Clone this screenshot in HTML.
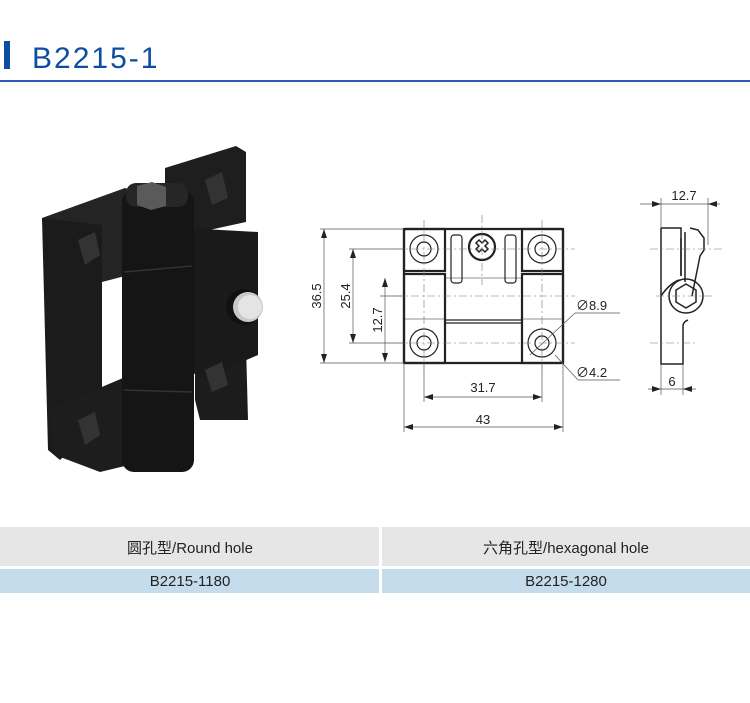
<!DOCTYPE html>
<html><head><meta charset="utf-8"><style>
body{margin:0;width:750px;height:698px;background:#fff;overflow:hidden;font-family:"Liberation Sans","Noto Sans CJK SC",sans-serif}
svg text{font-family:"Liberation Sans","Noto Sans CJK SC",sans-serif}
</style></head><body>
<svg width="750" height="698" viewBox="0 0 750 698" xmlns="http://www.w3.org/2000/svg">
<rect x="4" y="41" width="6" height="28" fill="#0d4ea0"/>
<text x="32" y="68" font-size="30" fill="#0d4ea0" letter-spacing="2">B2215-1</text>
<rect x="0" y="80" width="750" height="2" fill="#2a5fb0"/>

<!-- photo -->
<g>
<polygon points="165,168 236,146 246,152 246,222 200,232 165,232" fill="#1e1e1e"/>
<polygon points="195,350 246,345 248,420 200,420 195,400" fill="#1c1c1c"/>
<polygon points="42,218 125,188 160,200 160,268 100,285 48,290" fill="#242424"/>
<polygon points="42,218 102,225 102,420 60,460 48,450" fill="#1b1b1b"/>
<polygon points="102,282 125,276 125,398 102,404" fill="#fff"/>
<polygon points="48,410 130,375 170,380 170,455 100,472 55,455" fill="#1d1d1d"/>
<polygon points="185,228 258,232 258,355 205,378 185,370" fill="#1a1a1a"/>
<rect x="122" y="190" width="72" height="282" rx="12" fill="#151515"/>
<line x1="124" y1="272" x2="192" y2="266" stroke="#333" stroke-width="1.5"/>
<line x1="124" y1="390" x2="192" y2="392" stroke="#333" stroke-width="1.5"/>
<rect x="126" y="183" width="62" height="24" rx="10" fill="#262626"/>
<polygon points="137,186 152,182 166,187 166,206 151,210 137,205" fill="#5a5a5a"/>
<polygon points="78,240 95,232 100,255 85,265" fill="#333"/>
<polygon points="205,180 222,172 228,198 212,205" fill="#333"/>
<polygon points="78,420 95,412 100,435 85,445" fill="#333"/>
<polygon points="205,370 222,362 228,385 212,392" fill="#333"/>
<circle cx="244" cy="307" r="18" fill="#111"/>
<circle cx="248" cy="307" r="15" fill="#c8c8c8"/>
<circle cx="250" cy="307" r="12" fill="#e4e4e4"/>
</g>

<!-- front drawing -->
<g stroke="#222" fill="none">
<g stroke-width="2.2">
<rect x="404" y="229" width="159" height="134" rx="2"/>
<rect x="404" y="229" width="41" height="42"/>
<rect x="522" y="229" width="41" height="42"/>
<rect x="404" y="274" width="41" height="89"/>
<rect x="522" y="274" width="41" height="89"/>
<circle cx="482" cy="247" r="13"/>
</g>
<g stroke-width="1.2">
<line x1="445" y1="320" x2="522" y2="320"/><line x1="445" y1="323" x2="522" y2="323"/>
<rect x="451" y="235" width="11" height="48" rx="3"/>
<rect x="505" y="235" width="11" height="48" rx="3"/>
<line x1="445" y1="278" x2="522" y2="278" stroke-width="0.6"/>
<line x1="404" y1="319" x2="445" y2="319" stroke-width="0.6"/>
<line x1="522" y1="319" x2="563" y2="319" stroke-width="0.6"/>
<circle cx="424" cy="249" r="14"/><circle cx="424" cy="249" r="7"/>
<circle cx="542" cy="249" r="14"/><circle cx="542" cy="249" r="7"/>
<circle cx="424" cy="343" r="14"/><circle cx="424" cy="343" r="7"/>
<circle cx="542" cy="343" r="14"/><circle cx="542" cy="343" r="7"/>
<path d="M476,243 l3,-3 3,3 3,-3 3,3 -3,3 3,3 -3,3 -3,-3 -3,3 -3,-3 3,-3z" stroke-width="1.5"/>
</g>
<g stroke-width="0.7" stroke="#555">
<line x1="320" y1="229" x2="404" y2="229"/><line x1="320" y1="363" x2="404" y2="363"/>
<line x1="349" y1="249" x2="404" y2="249"/><line x1="349" y1="343" x2="404" y2="343"/>
<line x1="380" y1="296" x2="404" y2="296"/>
<line x1="404" y1="363" x2="404" y2="432"/><line x1="563" y1="363" x2="563" y2="432"/>
<line x1="424" y1="363" x2="424" y2="402"/><line x1="542" y1="363" x2="542" y2="402"/>
<line x1="324" y1="229" x2="324" y2="363"/>
<line x1="353" y1="249" x2="353" y2="343"/>
<line x1="385" y1="278" x2="385" y2="362"/>
<line x1="424" y1="397" x2="542" y2="397"/>
<line x1="404" y1="427" x2="563" y2="427"/>
<line x1="530" y1="355" x2="575" y2="313"/><line x1="575" y1="313" x2="620" y2="313"/>
<line x1="555" y1="355" x2="578" y2="380"/><line x1="578" y1="380" x2="620" y2="380"/>
</g>
<g stroke-width="0.6" stroke="#777" stroke-dasharray="8,3,2,3">
<line x1="395" y1="296" x2="575" y2="296"/>
<line x1="395" y1="249" x2="575" y2="249"/>
<line x1="395" y1="343" x2="575" y2="343"/>
<line x1="482" y1="215" x2="482" y2="285"/>
<line x1="424" y1="220" x2="424" y2="370"/>
<line x1="542" y1="220" x2="542" y2="370"/>
</g>
</g>
<g fill="#222">
<polygon points="324,229 321,238 327,238"/><polygon points="324,363 321,354 327,354"/>
<polygon points="353,249 350,258 356,258"/><polygon points="353,343 350,334 356,334"/>
<polygon points="385,278 382,287 388,287"/><polygon points="385,362 382,353 388,353"/>
<polygon points="424,397 433,394 433,400"/><polygon points="542,397 533,394 533,400"/>
<polygon points="404,427 413,424 413,430"/><polygon points="563,427 554,424 554,430"/>
</g>
<g font-size="13" fill="#222">
<text x="0" y="0" transform="translate(321,296) rotate(-90)" text-anchor="middle">36.5</text>
<text x="0" y="0" transform="translate(350,296) rotate(-90)" text-anchor="middle">25.4</text>
<text x="0" y="0" transform="translate(382,320) rotate(-90)" text-anchor="middle">12.7</text>
<text x="483" y="392" text-anchor="middle">31.7</text>
<text x="483" y="424" text-anchor="middle">43</text>
<text x="576" y="310">∅8.9</text>
<text x="576" y="377">∅4.2</text>
<text x="684" y="200" text-anchor="middle">12.7</text>
<text x="672" y="386" text-anchor="middle">6</text>
</g>

<!-- side view -->
<g stroke="#222" fill="none" stroke-width="1.5">
<path d="M661,228 h20 v48 M661,228 v136 h22 v-38 q0,-4 5,-6"/>
<path d="M690,228 l8,2 6,8 v12 l-4,6 -8,40"/>
<path d="M681,238 v38 M685,232 v50"/>
<circle cx="686" cy="296" r="17"/>
<polygon points="686,284 696,290 696,302 686,308 676,302 676,290"/>
<path d="M661,296 q8,-12 18,-16"/>
</g>
<g stroke="#555" stroke-width="0.7" fill="none">
<line x1="640" y1="204" x2="720" y2="204"/>
<line x1="661" y1="198" x2="661" y2="228"/><line x1="708" y1="198" x2="708" y2="245"/>
<line x1="648" y1="389" x2="696" y2="389"/>
<line x1="661" y1="364" x2="661" y2="395"/><line x1="683" y1="364" x2="683" y2="395"/>
</g>
<g stroke="#777" stroke-width="0.6" stroke-dasharray="8,3,2,3">
<line x1="650" y1="249" x2="722" y2="249"/>
<line x1="656" y1="296" x2="712" y2="296"/>
<line x1="650" y1="343" x2="695" y2="343"/>
</g>
<g fill="#222">
<polygon points="661,204 652,201 652,207"/><polygon points="708,204 717,201 717,207"/>
<polygon points="661,389 652,386 652,392"/><polygon points="683,389 692,386 692,392"/>
</g>

<!-- table -->
<rect x="0" y="527" width="379" height="39" fill="#e6e6e6"/>
<rect x="382" y="527" width="368" height="39" fill="#e6e6e6"/>
<rect x="0" y="569" width="379" height="24" fill="#c5dced"/>
<rect x="382" y="569" width="368" height="24" fill="#c5dced"/>
<g font-size="15" fill="#222" text-anchor="middle">
<text x="190" y="553">圆孔型/Round hole</text>
<text x="566" y="553">六角孔型/hexagonal hole</text>
<text x="190" y="586">B2215-1180</text>
<text x="566" y="586">B2215-1280</text>
</g>
</svg>
</body></html>
